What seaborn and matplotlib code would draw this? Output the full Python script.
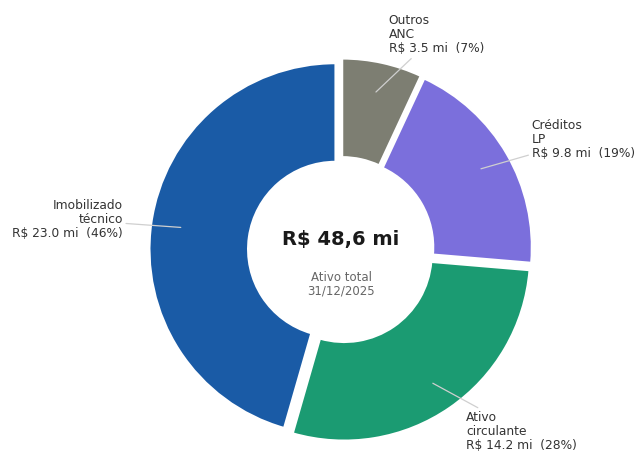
import numpy as np
import matplotlib
matplotlib.use("Agg")
import matplotlib.pyplot as plt
import seaborn as sns

# Composition of total assets (R$ millions)
categories = ["Outros\nANC", "Créditos\nLP", "Ativo\ncirculante", "Imobilizado\ntécnico"]
values = [3.5, 9.8, 14.2, 23.0]
colors = ["#7d7e72", "#7b6fdc", "#1b9b72", "#1a5ba6"]
center_value = "R$ 48,6 mi"
center_caption = "Ativo total\n31/12/2025"

sns.set_theme(style="white")
plt.rcParams["font.family"] = ["DejaVu Sans"]

fig = plt.figure(figsize=(6.4, 4.53), dpi=100)
ax = fig.add_axes([0, 0, 1, 1])

total = sum(values)
wedges, _ = ax.pie(
    values,
    colors=colors,
    startangle=90,
    counterclock=False,
    explode=[0.03] * len(values),
    wedgeprops=dict(width=0.53, edgecolor="white", linewidth=1.5),
)

for w, cat, v in zip(wedges, categories, values):
    mid = np.deg2rad((w.theta1 + w.theta2) / 2)
    cx, cy = np.cos(mid), np.sin(mid)
    pct = v / total * 100
    label = f"{cat}\nR$ {v:.1f} mi  ({pct:.0f}%)"
    ha = "left" if cx >= 0 else "right"
    ax.annotate(
        label,
        xy=(0.87 * cx, 0.87 * cy),
        xytext=(1.185 * cx, 1.185 * cy),
        ha=ha, va="center", multialignment=ha,
        fontsize=8.8, color="#333333", linespacing=1.1,
        arrowprops=dict(arrowstyle="-", color="#cfcfcf", lw=0.9,
                        shrinkA=0, shrinkB=0),
    )

ax.text(0, 0.054, center_value, ha="center", va="center",
        fontsize=14, fontweight="bold", color="#1a1a1a")
ax.text(0, -0.185, center_caption, ha="center", va="center",
        fontsize=8.5, color="#666666", linespacing=1.05)

unit = 186.0
ax.set_xlim(-341 / unit, (640 - 341) / unit)
ax.set_ylim(-(453 - 250) / unit, 250 / unit)
ax.set_aspect("equal")
ax.axis("off")

fig.savefig("out.png", dpi=100)
